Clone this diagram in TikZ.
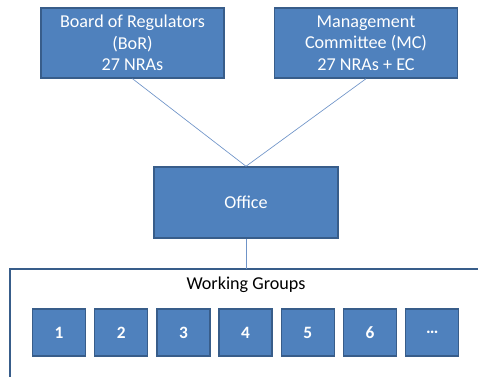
\documentclass[tikz,border=0pt]{standalone}
\usepackage{fontspec}
\setmainfont{Carlito}
\usepackage{tikz}
\usetikzlibrary{positioning, calc}
\definecolor{boxfill}{HTML}{4F81BD}
\definecolor{boxedge}{HTML}{385D8A}
\definecolor{linkcolor}{HTML}{6F94C8}

\tikzset{
  orgbox/.style={draw=boxedge, line width=1.1pt, fill=boxfill, text=white, align=center,
    inner sep=0pt, font=\fontsize{13.6}{16.2}\selectfont},
  wgbox/.style={orgbox, minimum width=39.75pt, minimum height=35.25pt, font=\fontsize{13}{15}\selectfont\bfseries},
  link/.style={linkcolor, line width=0.5pt}
}

\begin{document}
\begin{tikzpicture}[x=0.75pt, y=-0.75pt]
    \useasboundingbox (0,0) rectangle (478,377);

    % Top level bodies
    \node[orgbox, minimum width=137.25pt, minimum height=52.5pt] (bor) at (132.5,43)
      {Board of Regulators\\(BoR)\\27 NRAs};
    \node[orgbox, minimum width=137.25pt, minimum height=52.5pt] (mc) at (366,43)
      {Management\\Committee (MC)\\27 NRAs + EC};

    % Office
    \node[orgbox, minimum width=138pt, minimum height=53.25pt] (office) at (246,202.5) {Office};
    \draw[link] (bor.south) -- (office.north);
    \draw[link] (mc.south) -- (office.north);

    % Working groups bracket
    \coordinate (wgcorner) at (10,269);
    \draw[boxedge, line width=1.1pt] (10,377) -- (wgcorner) -- (478,269);
    \draw[link] (office.south) -- (office.south |- wgcorner);
    \node[font=\fontsize{13.6}{15}\selectfont] (wgtitle) at (246,285) {Working Groups};

    % Working group boxes
    \foreach \i in {1,...,6}
      \node[wgbox] (wg\i) at ({59+62.2*(\i-1)},332.5) {\i};
    \node[wgbox] (wgmore) at (432.2,332.5) {\ldots};
  \end{tikzpicture}
\end{document}
